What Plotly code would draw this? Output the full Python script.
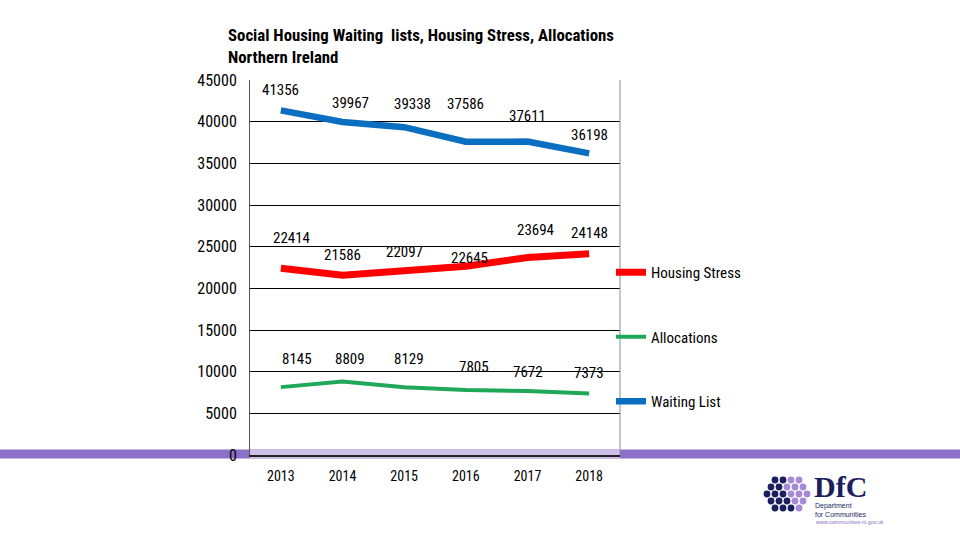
import plotly.graph_objects as go

years = ["2013", "2014", "2015", "2016", "2017", "2018"]
waiting_list = [41356, 39967, 39338, 37586, 37611, 36198]
housing_stress = [22414, 21586, 22097, 22645, 23694, 24148]
allocations = [8145, 8809, 8129, 7805, 7672, 7373]

# label offsets in pixels (xshift, yshift)
wl_off = [(0, 20), (8, 19), (8, 23), (0, 38), (0, 26), (0, 18)]
hs_off = [(11, 30), (0, 20), (0, 19), (4, 8), (8, 28), (0, 21)]
al_off = [(16, 28), (7, 23), (5, 28), (8, 23), (0, 19), (0, 21)]

FONT = "Roboto Condensed, Liberation Sans, Arial, sans-serif"

L, R, T, B = 250, 340, 80, 85
W, H = 960, 540
PW, PH = W - L - R, H - T - B


def px(x):
    return (x - L) / PW


def py(y):
    return (H - B - y) / PH


fig = go.Figure()
fig.add_trace(go.Scatter(x=years, y=housing_stress, mode="lines", name="Housing Stress",
                         line=dict(color="#ff0000", width=7), legendgroup="a", legendrank=1))
fig.add_trace(go.Scatter(x=years, y=allocations, mode="lines", name="Allocations",
                         line=dict(color="#1fa857", width=4), legendgroup="b", legendrank=2))
fig.add_trace(go.Scatter(x=years, y=waiting_list, mode="lines", name="Waiting List",
                         line=dict(color="#0a6fc0", width=6.5), legendgroup="c", legendrank=3))

annotations = []
for vals, offs in ((waiting_list, wl_off), (housing_stress, hs_off), (allocations, al_off)):
    for i, (v, (dx, dy)) in enumerate(zip(vals, offs)):
        annotations.append(dict(x=i, y=v, xref="x", yref="y", text=str(v), showarrow=False,
                                xshift=dx, yshift=dy,
                                font=dict(family=FONT, size=15, color="#000000")))

# logo text
annotations += [
    dict(xref="paper", yref="paper", x=px(813), y=py(504), xanchor="left", yanchor="bottom",
         text="<b>DfC</b>", showarrow=False, borderpad=0,
         font=dict(family="Liberation Serif, DejaVu Serif, serif", size=30, color="#1c1f5e")),
    dict(xref="paper", yref="paper", x=px(814), y=py(501), xanchor="left", yanchor="top",
         text="Department<br>for Communities", showarrow=False, align="left", borderpad=0,
         font=dict(family="Liberation Sans, Arial, sans-serif", size=7, color="#1c1f5e")),
    dict(xref="paper", yref="paper", x=px(814), y=py(518), xanchor="left", yanchor="top",
         text="www.communities-ni.gov.uk", showarrow=False, borderpad=0,
         font=dict(family="Liberation Sans, Arial, sans-serif", size=5.5, color="#8a6fc0")),
]

shapes = [
    dict(type="rect", xref="paper", yref="paper", x0=px(0), x1=px(960), y0=py(449.5), y1=py(458.5),
         fillcolor="#8c6fc6", line=dict(width=0), layer="below"),
    dict(type="rect", xref="paper", yref="paper", x0=0, x1=1, y0=py(449.5), y1=py(458.5),
         fillcolor="#cdbfe8", line=dict(width=0), layer="below"),
    dict(type="line", xref="paper", yref="paper", x0=1, x1=1, y0=0, y1=1,
         line=dict(color="#8c8c8c", width=1)),
]

NAVY, LAV = "#1c1f5e", "#a68ad8"
rows = [
    (480, [775, 783, 791, 799], [NAVY, NAVY, LAV, LAV]),
    (487, [771, 779, 787, 795, 803], [NAVY, NAVY, LAV, LAV, LAV]),
    (494, [767, 775, 783, 791, 799, 807], [NAVY, NAVY, NAVY, LAV, LAV, LAV]),
    (501, [771, 779, 787, 795, 803], [NAVY, NAVY, NAVY, LAV, LAV]),
    (508, [775, 783, 791, 799], [NAVY, NAVY, NAVY, LAV]),
]
r = 3.4
for yy, xs, cols in rows:
    for xx, c in zip(xs, cols):
        shapes.append(dict(type="circle", xref="paper", yref="paper",
                           x0=px(xx - r), x1=px(xx + r), y0=py(yy + r), y1=py(yy - r),
                           fillcolor=c, line=dict(width=0)))

fig.update_layout(
    width=W, height=H,
    margin=dict(l=L, r=R, t=T, b=B),
    paper_bgcolor="white", plot_bgcolor="rgba(0,0,0,0)",
    font=dict(family=FONT, color="#000000"),
    title=dict(text="<b>Social Housing Waiting  lists, Housing Stress, Allocations<br>Northern Ireland</b>",
               x=228 / W, xanchor="left", y=1 - 41 / H, yanchor="top",
               font=dict(family=FONT, size=16.8, color="#000000")),
    xaxis=dict(type="category", range=[-0.5, 5.5], showgrid=False, showline=True,
               linecolor="#222222", linewidth=1.5, ticks="", ticklabelstandoff=7,
               tickfont=dict(family=FONT, size=14, color="#000000"), zeroline=False),
    yaxis=dict(range=[0, 45000], dtick=5000, tickformat="d", showgrid=True, gridcolor="#000000",
               gridwidth=1, showline=True, linecolor="#555555", linewidth=1, ticks="",
               tickfont=dict(family=FONT, size=16, color="#000000"), zeroline=False,
               ticklabelstandoff=9),
    legend=dict(x=px(611), xanchor="left", y=py(256), yanchor="top", tracegroupgap=42,
                bgcolor="rgba(0,0,0,0)", font=dict(family=FONT, size=15, color="#000000")),
    annotations=annotations,
    shapes=shapes,
)

fig.write_html("out.html", config={"displayModeBar": False},
               post_script="document.body.style.margin='0';")
